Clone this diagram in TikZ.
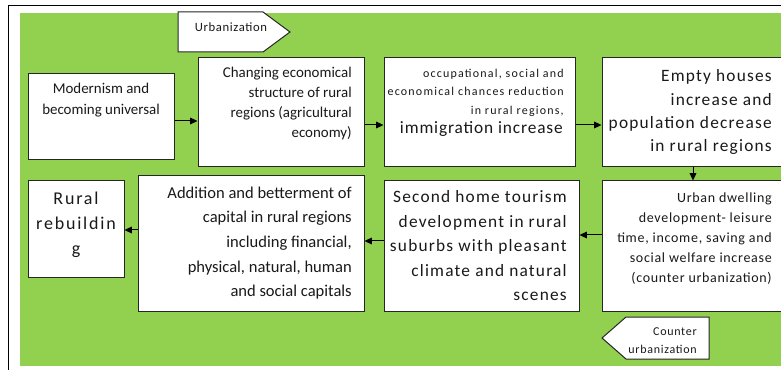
\documentclass[tikz,border=0pt]{standalone}
\usepackage{fontspec}
\setmainfont{Carlito}
\usetikzlibrary{fit,arrows.meta}
\definecolor{leaf}{HTML}{92D050}
\begin{document}
\begin{tikzpicture}[x=0.75pt,y=-0.75pt,
  box/.style={draw=black!85, fill=white, line width=0.75pt, inner sep=0pt},
  txt/.style={inner sep=0pt, align=right, anchor=north east},
  link/.style={line width=0.75pt, -{Triangle[length=5.5pt,width=5pt]}},
  fs/.style n args={3}{font=\fontsize{#1}{#2}\selectfont\addfontfeatures{LetterSpace=#3}, text=black!90}]
\useasboundingbox (0,0) rectangle (781,370);
\fill[white] (0,0) rectangle (781,370);
\draw[line width=0.75pt] (8,375) -- (8,6) -- (790,6);
\fill[leaf] (20,13) rectangle (790,366);
% boxes
\node[box, fit={(28,74)(174,160)}] (b1) {};
\node[box, fit={(198,58)(364,167)}] (b2) {};
\node[box, fit={(384,58)(575,167)}] (b3) {};
\node[box, fit={(602,58)(790,167)}] (b4) {};
\node[box, fit={(602,181)(790,311)}] (b5) {};
\node[box, fit={(384,181)(579,311)}] (b6) {};
\node[box, fit={(138,176)(364,311)}] (b7) {};
\node[box, fit={(28,181)(124,277)}] (b8) {};
% arrow-shaped labels
\draw[box] (178,12) -- (263,12) -- (290,32) -- (263,52) -- (178,52) -- cycle;
\node[inner sep=0pt, fs={9.5}{11}{5}] (urb) at (231,27) {Urbanization};
\draw[box] (602,338) -- (626,317) -- (709,317) -- (709,359) -- (626,359) -- cycle;
\node[txt, fs={9}{13.5}{6}] (cur) at (697,327) {Counter\\urbanization};
% texts
\node[inner sep=0pt, align=center, anchor=north, fs={11.2}{15.75}{0}] (t1) at (101,83) {Modernism and\\becoming universal};
\node[txt, fs={11.2}{15}{0}] (t2) at (352,67) {Changing economical\\structure of rural\\regions (agricultural\\economy)};
\node[txt, fs={9}{13.9}{10}] (t3) at (564,68.5) {occupational, social and\\economical chances reduction\\in rural regions,};
\node[txt, fs={13}{14}{5}] (t3b) at (563,121) {immigration increase};
\node[txt, fs={13}{17.5}{7}] (t4) at (772,69.5) {Empty houses\\increase and\\population decrease\\in rural regions};
\node[txt, fs={10.5}{15}{5}] (t5) at (772,192.5) {Urban dwelling\\development- leisure\\time, income, saving and\\social welfare increase\\(counter urbanization)};
\node[txt, fs={13}{18.4}{7}] (t6) at (567,190.5) {Second home tourism\\development in rural\\suburbs with pleasant\\climate and natural\\scenes};
\node[txt, fs={12.4}{18.5}{0}] (t7) at (352,186.5) {Addition and betterment of\\capital in rural regions\\including financial,\\physical, natural, human\\and social capitals};
\node[inner sep=0pt, align=center, anchor=north, fs={13.5}{18.75}{10}] (t8) at (76,191.5) {Rural\\rebuildin\\g};
% connectors
\draw[link] (b1.east |- 0,121) -- (b2.west |- 0,121);
\draw[link] (b2.east |- 0,125) -- (b3.west |- 0,125);
\draw[link] (b3.east |- 0,125) -- (b4.west |- 0,125);
\draw[link] (b4.south -| 693,0) -- (b5.north -| 693,0);
\draw[link] (b5.west |- 0,235) -- (b6.east |- 0,235);
\draw[link] (b6.west |- 0,241) -- (b7.east |- 0,241);
\draw[link] (b7.west |- 0,230) -- (b8.east |- 0,230);
\end{tikzpicture}
\end{document}
